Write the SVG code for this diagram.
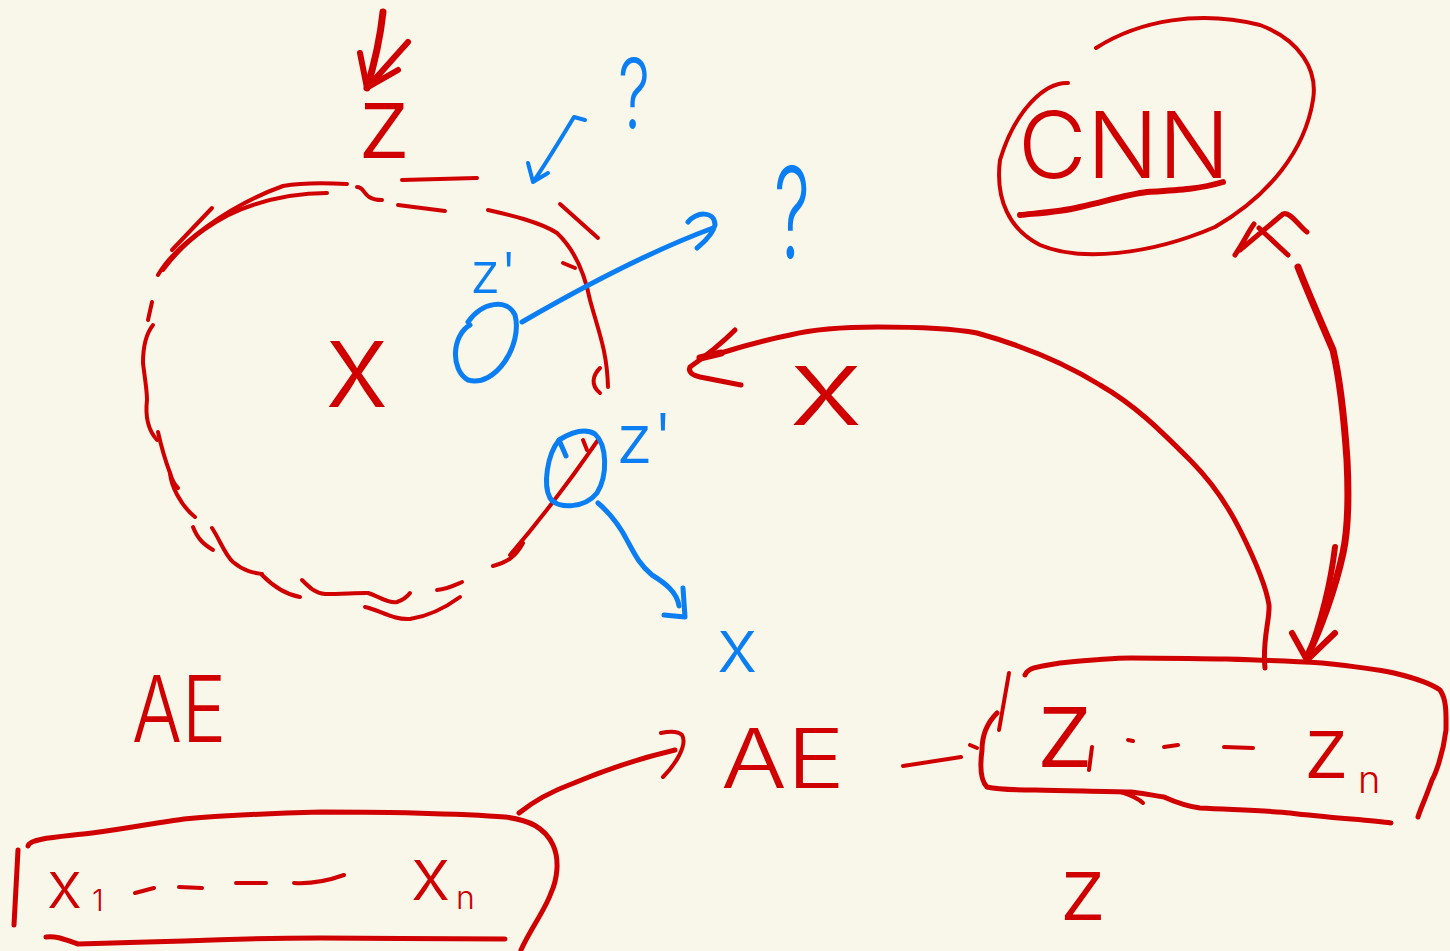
<svg xmlns="http://www.w3.org/2000/svg" width="1450" height="951" viewBox="0 0 1450 951">
<style>
.r{fill:none;stroke:#d00000;stroke-width:4;stroke-linecap:round;stroke-linejoin:round}
.rt{fill:none;stroke:#d00000;stroke-width:7;stroke-linecap:round;stroke-linejoin:round}
.b{fill:none;stroke:#0a7ef2;stroke-width:5;stroke-linecap:round;stroke-linejoin:round}
.tr{fill:#d00000;font-family:Inter,Roboto,"Liberation Sans",sans-serif;font-weight:300}
.tb{fill:#0a7ef2;font-family:Inter,Roboto,"Liberation Sans",sans-serif;font-weight:300}
</style>
<rect width="1450" height="951" fill="#f9f6ea"/>

<g id="latent-blob">
<path class="r" d="M158,275 C175,245 230,205 283,186 C305,182 330,183 347,184"/>
<path class="r" d="M163,270 C185,240 220,215 253,205 M253,205 C280,196 305,193 327,193"/>
<path class="r" d="M172,250 L212,208"/>
<path class="r" d="M357,187 C366,187 362,200 382,200"/>
<path class="r" d="M402,180 L477,178"/>
<path class="r" d="M398,205 L445,211"/>
<path class="r" d="M488,210 C510,215 540,222 557,233 C575,250 585,275 590,300 C598,330 607,350 608,387"/>
<path class="r" d="M560,204 L598,238"/>
<path class="r" d="M563,263 L575,268"/>
<path class="r" d="M600,368 C593,375 590,385 600,393"/>
<path class="r" d="M152,302 L148,320"/>
<path class="r" d="M153,325 C145,335 143,350 143,363 C145,380 147,390 147,400 C145,417 148,430 157,440"/>
<path class="r" d="M158,432 C162,450 167,465 170,473 C172,480 175,485 178,488"/>
<path class="r" d="M170,473 C171,485 180,505 195,517"/>
<path class="r" d="M193,527 C198,540 205,545 213,550"/>
<path class="r" d="M212,528 C220,540 225,555 233,562 C245,572 255,573 262,574"/>
<path class="r" d="M262,575 C275,588 288,595 300,597"/>
<path class="r" d="M302,580 C310,588 315,593 325,594 C340,594 355,593 366,593"/>
<path class="r" d="M368,593 C380,597 390,604 397,602 C403,600 407,597 410,593"/>
<path class="r" d="M365,607 C380,610 392,620 410,619 C430,616 445,608 460,597"/>
<path class="r" d="M437,590 C448,589 455,585 462,582"/>
<path class="r" d="M493,566 C505,563 515,558 523,543"/>
<path class="r" d="M510,555 C540,520 565,488 598,440"/>
<path class="r" d="M583,440 L587,450"/>
</g>

<g id="top-z">
<text class="tr" x="357" y="158" font-size="100">z</text>
</g>
<g id="blob-x">
<text class="tr" x="325" y="407" font-size="120">x</text>
</g>

<g id="z-prime-top">
<path class="b" d="M470,325 C452,335 450,370 468,380 C495,388 523,345 515,315 C507,298 482,302 468,322"/>
<text class="tb" x="470" y="293" font-size="56">z'</text>
</g>
<g id="z-prime-bottom">
<path class="b" d="M566,456 L559,440 C547,455 543,485 550,498 C558,510 585,508 597,493 C608,475 607,445 595,434 C585,428 572,432 559,440"/>
<text class="tb" x="616" y="463" font-size="68">z'</text>
</g>
<g id="q-small">
<text class="tb" x="618" y="128" font-size="96" textLength="32" lengthAdjust="spacingAndGlyphs">?</text>
</g>
<g id="q-big">
<text class="tb" x="774" y="258" font-size="126" textLength="36" lengthAdjust="spacingAndGlyphs">?</text>
</g>
<g id="blue-x">
<text class="tb" x="717" y="672" font-size="76">x</text>
</g>
<g id="red-x">
<text class="tr" x="789" y="425" font-size="108" textLength="74" lengthAdjust="spacingAndGlyphs">x</text>
</g>

<g id="cnn">
<path class="r" d="M1068,83 C1045,82 1015,110 1000,160 C995,200 1010,230 1040,245 C1080,262 1150,255 1215,227 C1270,195 1305,150 1313,100 C1318,70 1300,40 1260,25 C1200,10 1140,20 1096,48"/>
<text class="tr" x="1018" y="178" font-size="92" textLength="212" lengthAdjust="spacingAndGlyphs">CNN</text>
<path class="r" d="M1020,215 C1040,213 1060,212 1080,207 C1110,200 1130,194 1147,192 C1180,190 1200,189 1223,182" style="stroke-width:6"/>
</g>

<g id="ae-left">
<text class="tr" x="132" y="742" font-size="92" textLength="94" lengthAdjust="spacingAndGlyphs">AE</text>
</g>
<g id="ae-mid">
<text class="tr" x="721" y="788" font-size="82" textLength="124" lengthAdjust="spacingAndGlyphs">AE</text>
</g>

<g id="x-box">
<path class="r" d="M18,850 L14,925" style="stroke-width:5"/>
<path class="r" d="M28,846 C30,838 60,837 92,833 C130,828 160,822 184,819 C230,815 280,813 321,812 C360,812 390,812 413,813 C450,814 480,815 505,817 C530,820 545,828 553,845 C560,860 557,880 551,893 C545,910 530,930 521,950" style="stroke-width:5"/>
<path class="r" d="M46,937 C60,936 65,940 78,944 C110,943 150,942 184,941 C230,939 280,938 321,938 C380,938 450,939 505,939" style="stroke-width:5"/>
<text class="tr" x="47" y="908" font-size="66">x</text>
<text class="tr" x="92" y="911" font-size="30">1</text>
<path class="r" d="M135,893 L154,888 M179,887 L202,888 M236,883 L266,883 M294,883 C310,884 330,880 344,875"/>
<text class="tr" x="411" y="900" font-size="74">x</text>
<text class="tr" x="456" y="909" font-size="32">n</text>
</g>

<g id="z-box">
<path class="r" d="M1009,673 L999,730"/>
<path class="r" d="M997,713 C988,722 982,735 982,750 C980,765 980,780 987,787 C1000,790 1020,790 1035,790 C1070,791 1100,791 1131,792 C1150,794 1155,796 1164,797 C1175,802 1185,806 1200,808 C1240,810 1274,811 1290,813 C1330,818 1370,820 1391,823" style="stroke-width:5"/>
<path class="r" d="M1121,792 C1130,795 1138,798 1143,803"/>
<path class="r" d="M1025,675 C1028,668 1035,667 1060,663 C1090,660 1110,658 1131,658 C1170,658 1200,659 1226,659 C1260,660 1290,661 1322,663 C1360,667 1380,670 1394,673 C1415,678 1430,683 1440,690 C1447,700 1446,715 1446,730 C1443,755 1435,775 1432,780 C1425,800 1420,810 1418,817" style="stroke-width:5"/>
<text class="tr" x="1035" y="767" font-size="110">z</text>
<path class="r" d="M1092,747 L1089,770"/>
<path class="r" d="M1128,740 L1133,741 M1164,747 L1178,745 M1224,747 L1253,748"/>
<text class="tr" x="1303" y="778" font-size="86">z</text>
<text class="tr" x="1358" y="793" font-size="38">n</text>
</g>

<g id="bottom-z">
<text class="tr" x="1059" y="920" font-size="88">z</text>
</g>

<g id="connectors">
<path class="rt" d="M383,12 C380,40 374,65 367,88"/>
<path class="rt" d="M360,53 L367,88 L408,42 M398,70 L370,86" style="stroke-width:6"/>
<path class="b" d="M585,120 L574,117 C560,140 545,165 533,182 M528,163 L533,182 L548,173" style="stroke-width:4"/>
<path class="b" d="M522,322 C560,300 640,255 713,228"/>
<path class="b" d="M688,222 C695,212 715,210 715,225 C712,237 700,245 697,248"/>
<path class="b" d="M598,503 C612,515 622,530 628,542 C635,555 640,565 652,575 C665,583 677,592 679,606"/>
<path class="b" d="M683,588 L685,617 L664,615"/>
<path class="r" d="M1265,668 C1262,640 1270,620 1269,605 C1266,585 1255,560 1240,530 C1225,500 1210,480 1190,460 C1160,430 1135,405 1100,385 C1060,360 1020,345 977,333 C950,328 910,327 878,327 C840,327 810,330 790,335 C765,340 740,347 721,353" style="stroke-width:5"/>
<path class="r" d="M721,353 L700,358" style="stroke-width:7"/>
<path class="r" d="M735,330 C720,345 700,360 690,367 C688,372 692,375 700,377 L741,385" style="stroke-width:5"/>
<path class="rt" d="M1298,267 C1305,285 1320,320 1333,350 C1340,380 1345,430 1347,460 C1349,500 1348,530 1343,553 C1335,590 1320,630 1307,657"/>
<path class="rt" d="M1335,547 C1330,590 1318,630 1307,660 M1292,633 L1307,660 L1335,633" style="stroke-width:6"/>
<path class="r" d="M1235,255 C1245,240 1248,232 1254,224 M1240,250 L1283,214 C1290,211 1298,225 1307,232 M1259,228 L1288,255" style="stroke-width:5"/>
<path class="rt" d="M519,813 C535,800 555,790 574,783 C610,768 645,757 675,750" style="stroke-width:5"/>
<path class="r" d="M661,733 C670,731 678,731 682,735 C688,745 675,765 663,777"/>
<path class="r" d="M903,766 L961,757 M970,745 L977,748"/>
</g>
</svg>
